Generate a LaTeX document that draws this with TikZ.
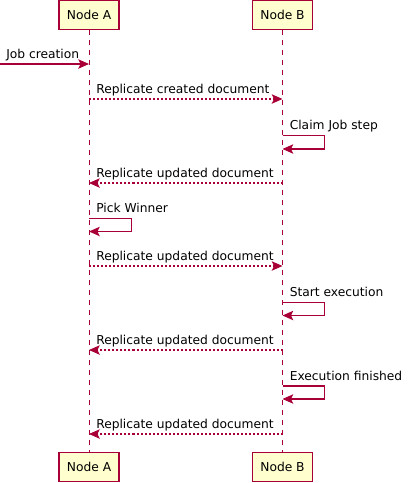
\documentclass[tikz,border=0pt]{standalone}
\usepackage{fontspec}
\setmainfont{DejaVu Sans}
\usetikzlibrary{arrows.meta}
\definecolor{pred}{HTML}{A80036}
\definecolor{pfill}{HTML}{FEFECE}
\tikzset{
  actorbox/.style={draw=pred, fill=pfill, line width=0.9pt, minimum width=60*0.75pt, minimum height=29*0.75pt, inner sep=0pt, font=\fontsize{9.2pt}{11pt}\selectfont},
  lifeline/.style={draw=pred, line width=0.75pt, dash pattern=on 3.75pt off 3.75pt},
  msgline/.style={draw=pred, line width=0.8pt, -{Stealth[length=8pt,width=7pt,inset=1.6pt,fill=pred]}},
  replyline/.style={msgline, dash pattern=on 1.5pt off 1.5pt},
  lbl/.style={anchor=base west, inner sep=0pt, font=\fontsize{9.2pt}{11pt}\selectfont}
}
\begin{document}
\begin{tikzpicture}[x=0.75pt, y=-0.75pt]
\useasboundingbox (0,0) rectangle (413,483);
% actor boxes
\node[actorbox] (topA) at (89,15) {Node A};
\node[actorbox] (topB) at (282.5,15) {Node B};
\node[actorbox] (botA) at (89,467) {Node A};
\node[actorbox] (botB) at (282.5,467) {Node B};
% lifelines
\draw[lifeline] (topA.south) -- (botA.north);
\draw[lifeline] (topB.south) -- (botB.north);
% coordinates on lifelines
\coordinate (start) at (0,64);
\coordinate (a1) at (89,64);
\coordinate (a2) at (89,99);
\coordinate (b2) at (282.5,99);
\coordinate (b3t) at (282.5,135.5);
\coordinate (r3t) at (324.5,135.5);
\coordinate (r3b) at (324.5,149);
\coordinate (b3b) at (282.5,149);
\coordinate (b4) at (282.5,183);
\coordinate (a4) at (89,183);
\coordinate (a5t) at (89,218.5);
\coordinate (r5t) at (131.5,218.5);
\coordinate (r5b) at (131.5,231.5);
\coordinate (a5b) at (89,231.5);
\coordinate (a6) at (89,266);
\coordinate (b6) at (282.5,266);
\coordinate (b7t) at (282.5,302.5);
\coordinate (r7t) at (324.5,302.5);
\coordinate (r7b) at (324.5,315.5);
\coordinate (b7b) at (282.5,315.5);
\coordinate (b8) at (282.5,350);
\coordinate (a8) at (89,350);
\coordinate (b9t) at (282.5,386);
\coordinate (r9t) at (324.5,386);
\coordinate (r9b) at (324.5,399);
\coordinate (b9b) at (282.5,399);
\coordinate (b10) at (282.5,434);
\coordinate (a10) at (89,434);
% messages
\draw[msgline] (start) -- (a1);
\node[lbl] (t1) at (6,58) {Job creation};
\draw[replyline] (a2) -- (b2);
\node[lbl] (t2) at (96,93) {Replicate created document};
\draw[msgline] (b3t) -- (r3t) -- (r3b) -- (b3b);
\node[lbl] (t3) at (289.5,129) {Claim Job step};
\draw[replyline] (b4) -- (a4);
\node[lbl] (t4) at (96,177) {Replicate updated document};
\draw[msgline] (a5t) -- (r5t) -- (r5b) -- (a5b);
\node[lbl] (t5) at (96,212) {Pick Winner};
\draw[replyline] (a6) -- (b6);
\node[lbl] (t6) at (96,260) {Replicate updated document};
\draw[msgline] (b7t) -- (r7t) -- (r7b) -- (b7b);
\node[lbl] (t7) at (289.5,296) {Start execution};
\draw[replyline] (b8) -- (a8);
\node[lbl] (t8) at (96,344) {Replicate updated document};
\draw[msgline] (b9t) -- (r9t) -- (r9b) -- (b9b);
\node[lbl] (t9) at (289.5,380) {Execution finished};
\draw[replyline] (b10) -- (a10);
\node[lbl] (t10) at (96,428) {Replicate updated document};
\end{tikzpicture}
\end{document}
